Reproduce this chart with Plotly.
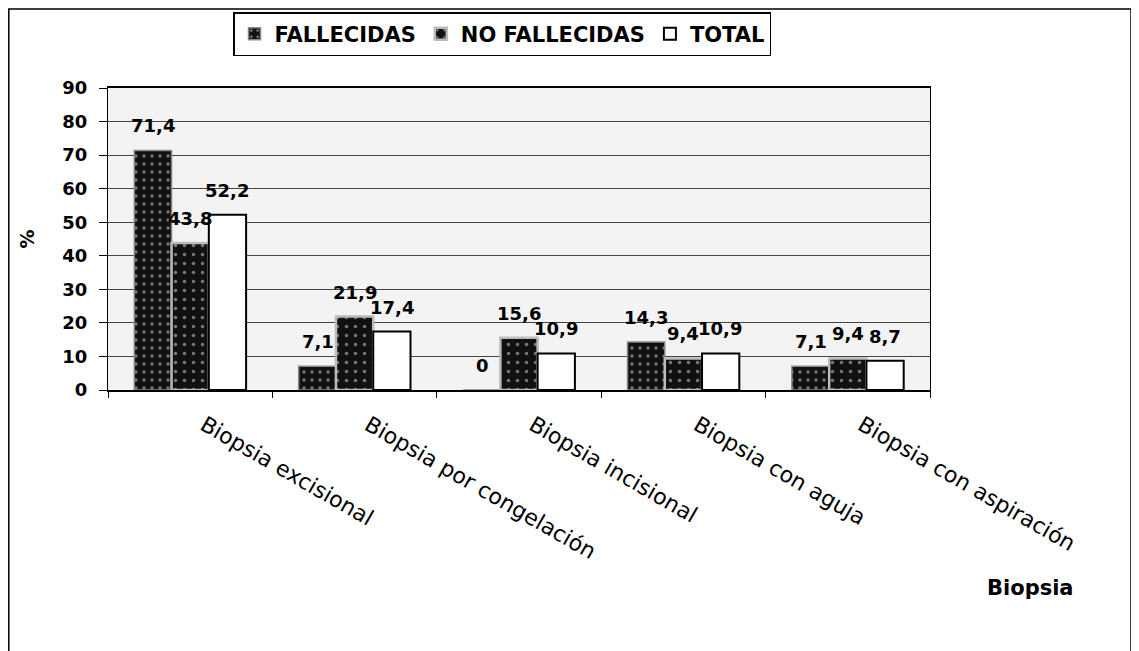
import plotly.graph_objects as go

categories = ["Biopsia excisional", "Biopsia por congelación", "Biopsia incisional",
              "Biopsia con aguja", "Biopsia con aspiración"]
fallecidas = [71.4, 7.1, 0, 14.3, 7.1]
no_fallecidas = [43.8, 21.9, 15.6, 9.4, 9.4]
total = [52.2, 17.4, 10.9, 10.9, 8.7]
y_ticks = [0, 10, 20, 30, 40, 50, 60, 70, 80, 90]
series = [("FALLECIDAS", fallecidas), ("NO FALLECIDAS", no_fallecidas), ("TOTAL", total)]


def fmt(v):
    return "0" if v == 0 else f"{v:.1f}".replace(".", ",")


# page has an 8px body margin: figure is drawn at screen offset (8, 8)
OFF = 8
W, H = 1139 - OFF, 651 - OFF
PL, PR, PT, PB = 108, 930, 88, 390  # plot area in screen px
L, R, T, B = PL - OFF, (W + OFF) - PR, PT - OFF, (H + OFF) - PB
pw, ph = PR - PL, PB - PT


def px_x(x):
    return (x - PL) / pw


def px_y(y):
    return 1 - (y - PT) / ph


FONT = "DejaVu Sans, Verdana"
BAR_PX = 37  # approx bar width in px, for label offsets

styles = [
    dict(color="#111111", line=dict(color="#888888", width=1.5),
         pattern=dict(shape=".", fgcolor="#dddddd", bgcolor="#111111", size=8, solidity=0.15)),
    dict(color="#111111", line=dict(color="#bbbbbb", width=2.5),
         pattern=dict(shape=".", fgcolor="#dddddd", bgcolor="#111111", size=9, solidity=0.12)),
    dict(color="white", line=dict(color="black", width=2)),
]

fig = go.Figure()
annotations = []
for i, ((name, vals), st) in enumerate(zip(series, styles)):
    fig.add_trace(go.Bar(name=name, x=categories, y=vals, marker=st))
    for c, v in zip(categories, vals):
        annotations.append(dict(
            x=c, y=v, xref="x", yref="y", text=f"<b>{fmt(v)}</b>", showarrow=False,
            xanchor="center", yanchor="bottom", xshift=(i - 1) * BAR_PX, yshift=12,
            font=dict(family=FONT, size=18, color="black"),
        ))

annotations.append(dict(
    text="<b>Biopsia</b>", xref="paper", yref="paper",
    x=px_x(1031), y=px_y(588), xanchor="center", yanchor="middle", showarrow=False,
    font=dict(size=21, family=FONT, color="black"),
))

fig.update_layout(
    width=W, height=H,
    margin=dict(l=L, r=R, t=T, b=B, autoexpand=False),
    paper_bgcolor="white",
    plot_bgcolor="#f3f3f3",
    barmode="group", bargap=0.32, bargroupgap=0,
    font=dict(family=FONT, color="black"),
    legend=dict(
        orientation="h", x=px_x(233), y=px_y(12), xanchor="left", yanchor="top",
        bordercolor="black", borderwidth=1.5, bgcolor="white",
        font=dict(size=21, family=FONT, weight="bold"),
        itemclick=False,
    ),
    shapes=[
        dict(type="rect", xref="paper", yref="paper",
             x0=px_x(8.8), x1=px_x(1131), y0=px_y(9), y1=px_y(720),
             line=dict(color="black", width=1.5), layer="below"),
    ],
    annotations=annotations,
)

fig.update_yaxes(
    range=[0, 90], tickvals=y_ticks, showgrid=True, gridcolor="#444444", gridwidth=1,
    showline=True, linecolor="black", linewidth=1, mirror=True,
    ticks="outside", ticklen=8, tickcolor="black",
    tickfont=dict(size=18, family=FONT, weight="bold"),
    ticklabelstandoff=8,
    title=dict(text="<b>%</b>", font=dict(size=19), standoff=22),
    zeroline=False, automargin=False,
)
fig.update_xaxes(
    tickangle=30, tickfont=dict(size=22, family=FONT),
    showline=True, linecolor="black", linewidth=1.5, mirror=True,
    ticks="outside", tickson="boundaries", ticklen=6, tickcolor="black",
    ticklabelstandoff=12, ticklabelshift=14, automargin=False,
)

fig.write_html("out.html")
